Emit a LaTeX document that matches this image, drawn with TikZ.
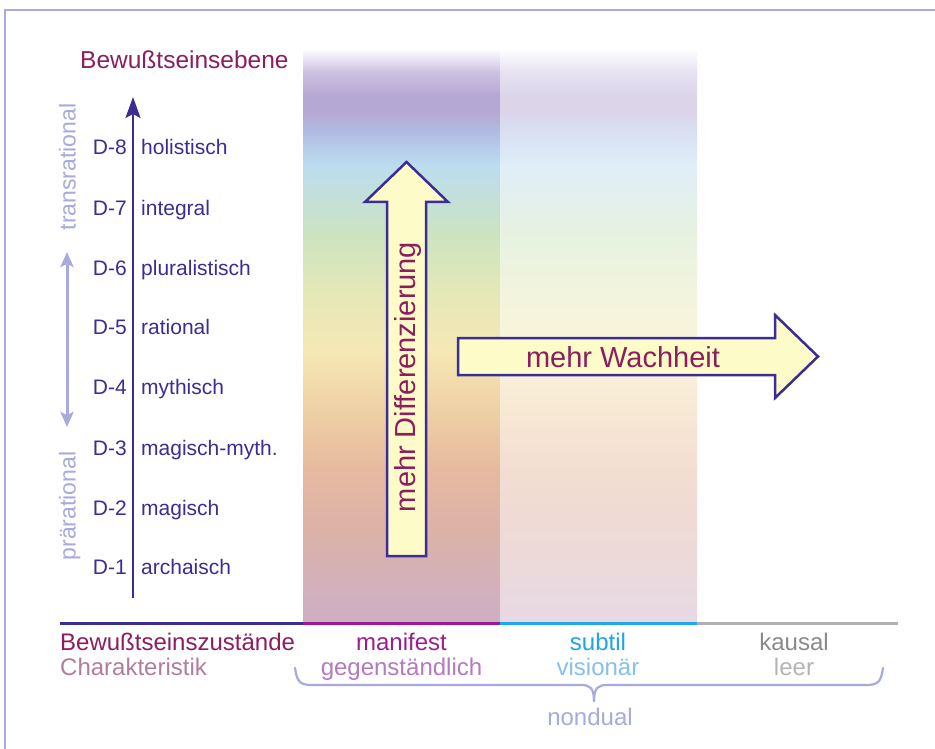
\documentclass[tikz,border=0pt]{standalone}
\usepackage{fontspec}
\setmainfont{Liberation Sans}
\usetikzlibrary{arrows.meta}

\definecolor{axisblue}{RGB}{58,46,150}
\definecolor{titlemaroon}{RGB}{140,30,95}
\definecolor{lav}{RGB}{168,170,220}
\definecolor{framecol}{RGB}{170,170,222}
\definecolor{charak}{RGB}{176,126,156}
\definecolor{manif}{RGB}{155,30,140}
\definecolor{gegen}{RGB}{178,122,192}
\definecolor{subt}{RGB}{30,165,227}
\definecolor{vision}{RGB}{134,192,236}
\definecolor{kaus}{RGB}{138,138,138}
\definecolor{leercol}{RGB}{180,180,180}
\definecolor{arrowfill}{RGB}{253,251,200}
\definecolor{linemag}{RGB}{160,24,154}
\definecolor{linecyan}{RGB}{32,168,232}
\definecolor{linegray}{RGB}{176,176,176}

% band colours, bottom to top
\definecolor{c01}{RGB}{205,174,194}
\definecolor{c02}{RGB}{210,176,188}
\definecolor{c03}{RGB}{220,178,168}
\definecolor{c04}{RGB}{230,185,160}
\definecolor{c05}{RGB}{239,208,166}
\definecolor{c06}{RGB}{245,232,180}
\definecolor{c07}{RGB}{228,232,184}
\definecolor{c08}{RGB}{205,227,192}
\definecolor{c09}{RGB}{188,220,240}
\definecolor{c10}{RGB}{176,186,226}
\definecolor{c11}{RGB}{182,168,212}
\definecolor{c12}{RGB}{205,194,227}
\definecolor{c13}{RGB}{252,251,254}
\colorlet{d01}{c01!48!white}
\colorlet{d02}{c02!48!white}
\colorlet{d03}{c03!48!white}
\colorlet{d04}{c04!48!white}
\colorlet{d05}{c05!48!white}
\colorlet{d06}{c06!48!white}
\colorlet{d07}{c07!48!white}
\colorlet{d08}{c08!48!white}
\colorlet{d09}{c09!48!white}
\colorlet{d10}{c10!48!white}
\colorlet{d11}{c11!48!white}
\colorlet{d12}{c12!48!white}
\colorlet{d13}{c13!48!white}

\pgfdeclareverticalshading{bandmanifest}{100bp}{color(0bp)=(c01); color(25bp)=(c01); color(27.88bp)=(c02); color(33.12bp)=(c03); color(38.35bp)=(c04); color(43.59bp)=(c05); color(48.82bp)=(c06); color(54.06bp)=(c07); color(58.86bp)=(c08); color(64.97bp)=(c09); color(68.02bp)=(c10); color(69.59bp)=(c11); color(71.07bp)=(c11); color(73.08bp)=(c12); color(75bp)=(c13); color(100bp)=(c13)}
\pgfdeclareverticalshading{bandsubtil}{100bp}{color(0bp)=(d01); color(25bp)=(d01); color(27.88bp)=(d02); color(33.12bp)=(d03); color(38.35bp)=(d04); color(43.59bp)=(d05); color(48.82bp)=(d06); color(54.06bp)=(d07); color(58.86bp)=(d08); color(64.97bp)=(d09); color(68.02bp)=(d10); color(69.59bp)=(d11); color(71.07bp)=(d11); color(73.08bp)=(d12); color(75bp)=(d13); color(100bp)=(d13)}

\tikzset{
  lvl/.style={font=\fontsize{21}{25}\selectfont, text=axisblue, inner sep=0pt},
  big/.style={font=\fontsize{24}{28}\selectfont, inner sep=0pt},
  side/.style={font=\fontsize{23}{27}\selectfont, text=lav, inner sep=0pt, rotate=90, anchor=base},
  bigarrow/.style={draw=axisblue, line width=2.5pt, fill=arrowfill, line join=miter},
  arrowtext/.style={font=\fontsize{29}{33}\selectfont, text=titlemaroon, inner sep=0pt},
}

\begin{document}
\begin{tikzpicture}[x=1pt,y=-1pt]
\useasboundingbox (0,0) rectangle (935,749);
\fill[white] (0,0) rectangle (935,749);
\draw[framecol, line width=2.5pt] (5,749) -- (5,10) -- (935,10);

% bands
\shade[shading=bandmanifest] (303,50) rectangle (500,623);
\shade[shading=bandsubtil] (500,50) rectangle (697,623);

% base line
\coordinate (b0) at (60,623);
\coordinate (b1) at (303,623);
\coordinate (b2) at (500,623);
\coordinate (b3) at (697,623);
\coordinate (b4) at (898,623);
\draw[axisblue, line width=3pt] (b0) -- (b1);
\draw[linemag, line width=3pt] (b1) -- (b2);
\draw[linecyan, line width=3pt] (b2) -- (b3);
\draw[linegray, line width=3pt] (b3) -- (b4);

% title
\node[big, text=titlemaroon, anchor=base west, font=\fontsize{24.5}{28}\selectfont] (title) at (80,69) {Bewußtseinsebene};

% axis
\coordinate (axbot) at (133,598);
\coordinate (axtop) at (133,97);
\draw[axisblue, line width=2.5pt, -{Stealth[length=21pt,width=15pt,inset=4pt]}] (axbot) -- (axtop);

% levels
\foreach \n/\lab/\y in {8/holistisch/155, 7/integral/215, 6/pluralistisch/275, 5/rational/334, 4/mythisch/394, 3/magisch-myth./455, 2/magisch/515, 1/archaisch/574}{
  \node[lvl, anchor=base east] (d\n) at (127,\y) {D-\n};
  \node[lvl, anchor=base west] (l\n) at (141,\y) {\lab};
}

% side labels
\node[side] (trans) at (75.5,167) {transrational};
\node[side] (prae) at (75.5,506) {prärational};
\coordinate (dtop) at (67,252);
\coordinate (dbot) at (67,427);
\draw[lav, line width=3pt, {Stealth[length=15pt,width=13pt,inset=3pt]}-{Stealth[length=15pt,width=13pt,inset=3pt]}] (dtop) -- (dbot);

% big arrows
\draw[bigarrow] (387,556) -- (387,202) -- (365,202) -- (406.5,162) -- (448,202) -- (426,202) -- (426,556) -- cycle;
\node[arrowtext, rotate=90, anchor=base] (diff) at (415,377) {mehr Differenzierung};

\draw[bigarrow] (458,338) -- (775,338) -- (775,315) -- (818,356.5) -- (775,398) -- (775,375) -- (458,375) -- cycle;
\node[arrowtext] (wach) at (623,357) {mehr Wachheit};

% bottom labels
\node[big, text=titlemaroon, anchor=base west] (zust) at (60,650) {Bewußtseinszustände};
\node[big, text=charak, anchor=base west] (char) at (60,675) {Charakteristik};
\node[big, text=manif, anchor=base] (man) at (401.5,650) {manifest};
\node[big, text=gegen, anchor=base] (geg) at (401.5,675) {gegenständlich};
\node[big, text=subt, anchor=base] (sub) at (598,650) {subtil};
\node[big, text=vision, anchor=base] (vis) at (598,675) {visionär};
\node[big, text=kaus, anchor=base] (kau) at (794,650) {kausal};
\node[big, text=leercol, anchor=base] (lee) at (794,675) {leer};

% brace
\coordinate (brl) at (295,668);
\coordinate (brr) at (883,668);
\coordinate (brm) at (594,701);
\draw[lav, line width=2.2pt, line cap=round, line join=round]
  (brl) .. controls (297,682) and (300,685) .. (312,685) -- (581,685)
  .. controls (590,685) and (594,688) .. (brm);
\draw[lav, line width=2.2pt, line cap=round, line join=round]
  (brr) .. controls (881,682) and (878,685) .. (866,685) -- (607,685)
  .. controls (598,685) and (594,688) .. (brm);
\node[big, text=lav, anchor=base] (nond) at (590,725) {nondual};
\end{tikzpicture}
\end{document}
